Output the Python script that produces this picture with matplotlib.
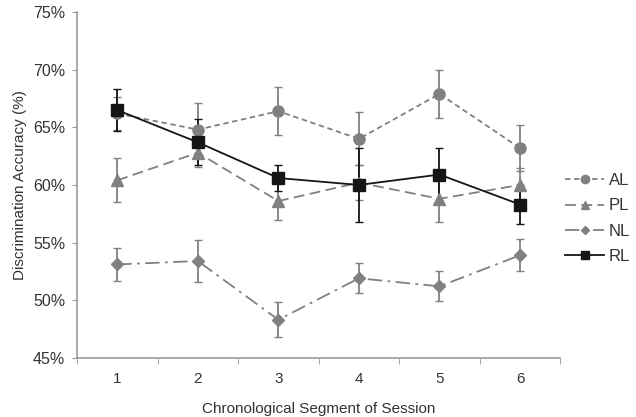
import numpy as np
import matplotlib.pyplot as plt
from matplotlib.ticker import FuncFormatter
from matplotlib.lines import Line2D

plt.rcParams['font.family'] = ['Liberation Sans', 'DejaVu Sans']

segments = [1, 2, 3, 4, 5, 6]
al = [66.2, 64.8, 66.4, 64.0, 67.9, 63.2]
al_err = [1.4, 2.3, 2.1, 2.3, 2.1, 2.0]
pl = [60.4, 62.8, 58.6, 60.2, 58.8, 60.0]
pl_err = [1.9, 1.2, 1.6, 1.5, 2.0, 1.5]
nl = [53.1, 53.4, 48.3, 51.9, 51.2, 53.9]
nl_err = [1.4, 1.8, 1.5, 1.3, 1.3, 1.4]
rl = [66.5, 63.7, 60.6, 60.0, 60.9, 58.3]
rl_err = [1.8, 2.0, 1.1, 3.2, 2.3, 1.7]

gray = '#808080'
dark = '#151515'

styles = {
    'AL': dict(color=gray, ls=(0, (3, 2)), marker='o', ms=8),
    'PL': dict(color=gray, ls=(0, (6, 3)), marker='^', ms=8),
    'NL': dict(color=gray, ls=(0, (8, 3, 1.5, 3)), marker='D', ms=6),
    'RL': dict(color=dark, ls='-', marker='s', ms=8),
}

fig = plt.figure(figsize=(6.36, 4.17), dpi=100)
ax = fig.add_axes([0.121, 0.142, 0.76, 0.829])

for name, vals, errs in [('AL', al, al_err), ('PL', pl, pl_err),
                         ('NL', nl, nl_err), ('RL', rl, rl_err)]:
    ax.errorbar(segments, vals, yerr=errs, lw=1.3, capsize=3, elinewidth=1.3,
                **styles[name])

ax.set_xlim(0.5, 6.5)
ax.set_ylim(45, 75)
ax.set_yticks(np.arange(45, 76, 5))
ax.yaxis.set_major_formatter(FuncFormatter(lambda v, p: f'{v:.0f}%'))
ax.set_xticks(segments)
ax.set_xticks(np.arange(0.5, 6.6, 1), minor=True)
ax.tick_params(axis='x', which='major', length=0, pad=10, labelsize=11, colors='#333333')
ax.tick_params(axis='x', which='minor', length=4, color='#999999', direction='out')
ax.tick_params(axis='y', length=3.5, pad=5, labelsize=11.5, labelcolor='#333333', color='#999999')

for s in ['top', 'right']:
    ax.spines[s].set_visible(False)
for s in ['left', 'bottom']:
    ax.spines[s].set_color('#999999')
    ax.spines[s].set_linewidth(1.2)

ax.set_xlabel('Chronological Segment of Session', fontsize=11, color='#333333', labelpad=12)
ax.set_ylabel('Discrimination Accuracy (%)', fontsize=11, color='#333333')

handles = []
for name in ['AL', 'PL', 'NL', 'RL']:
    st = dict(styles[name])
    st['ms'] = st['ms'] - 2
    handles.append(Line2D([], [], lw=1.3, **st))
leg = fig.legend(handles, ['AL', 'PL', 'NL', 'RL'], loc='upper left',
                 bbox_to_anchor=(0.889, 0.585), frameon=False, fontsize=12,
                 handlelength=2.3, handletextpad=0.3, labelspacing=0.62,
                 borderpad=0, borderaxespad=0)
for t in leg.get_texts():
    t.set_color('#333333')

fig.savefig('out.png', dpi=100)
